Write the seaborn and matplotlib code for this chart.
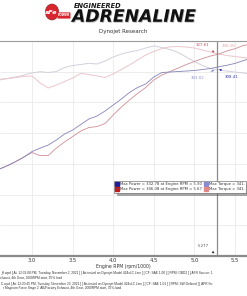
import matplotlib
matplotlib.use('Agg')
import matplotlib.pyplot as plt
import seaborn as sns
import pandas as pd
from matplotlib.lines import Line2D
from matplotlib.patches import Circle, FancyBboxPatch
from matplotlib.ticker import MultipleLocator
import matplotlib.patheffects as pe

# ---------------- data (Engine RPM in thousands) ----------------
rpm = [2.6, 2.7, 2.8, 2.9, 3.0, 3.1, 3.2, 3.3, 3.4, 3.5, 3.6, 3.7, 3.8, 3.9,
       4.0, 4.1, 4.2, 4.3, 4.4, 4.5, 4.6, 4.7, 4.8, 4.9, 5.0, 5.1, 5.2, 5.3,
       5.4, 5.5, 5.6, 5.7]
power_run1 = [141.5, 147.2, 153.7, 161.1, 170.0, 175.7, 180.6, 188.8, 198.5, 205.0,
              214.0, 223.0, 227.8, 236.0, 245.8, 255.5, 266.1, 274.3, 280.0, 291.4,
              298.7, 299.5, 300.3, 301.1, 302.0, 303.6, 305.2, 308.0, 310.5, 313.5,
              318.0, 322.0]
power_run2 = [141.5, 147.2, 153.7, 161.1, 168.4, 163.5, 163.5, 175.7, 185.5, 194.5,
              203.4, 209.1, 210.7, 215.6, 229.5, 242.5, 253.9, 264.5, 274.3, 286.5,
              294.6, 300.3, 306.0, 311.7, 316.6, 321.5, 325.6, 328.8, 333.7, 337.5,
              342.5, 345.5]
torque_run1 = [286.5, 288.9, 291.4, 294.6, 297.9, 300.0, 298.7, 300.3, 306.8, 310.1,
               311.7, 313.7, 312.5, 317.4, 323.9, 328.8, 332.1, 334.5, 338.6, 341.9,
               339.4, 336.2, 331.3, 323.9, 316.6, 310.1, 305.2, 302.8, 301.1, 299.5,
               297.9, 296.3]
torque_run2 = [287.6, 288.9, 290.6, 292.2, 293.0, 281.6, 273.5, 278.3, 284.0, 289.7,
               297.1, 295.4, 293.0, 290.6, 296.3, 303.6, 310.9, 319.1, 327.2, 332.9,
               337.8, 340.6, 341.0, 340.2, 338.6, 335.3, 332.1, 328.8, 326.4, 324.8,
               323.1, 321.5]

x_ticks = [3.0, 3.5, 4.0, 4.5, 5.0, 5.5]
x_tick_labels = ["3.0", "3.5", "4.0", "4.5", "5.0", "5.5"]
cursor_rpm = 5.277
cursor_values = ["327.61", "330.10", "303.02", "308.41"]

legend_labels = ["Max Power = 332.78 at Engine RPM = 5.90",
                 "Max Power = 346.08 at Engine RPM = 5.67",
                 "Max Torque = 341.",
                 "Max Torque = 341."]

footer_lines = [
    "_H.wpd [ At: 12:31:08 PM, Tuesday, November 2, 2021 ] [ As tested on Dynojet Model 424xLC Line ] [ CF: SAE 1.00 ] [ RPM: OBD2 ] [ AFR Source: 1",
    "xhaust, 4th Gear, 2000RPM start, 35% load",
    "C.wpd [ At: 12:20:45 PM, Tuesday, November 23, 2021 ] [ As tested on Dynojet Model 424xLC Line ] [ CF: SAE 1.01 ] [ RPM: SW Defined ] [ AFR Su",
    "r Magnum Force Stage 2  AB/Factory Exhaust, 4th Gear, 2000RPM start, 35% load",
]

# ---------------- styling ----------------
sns.set_theme(style="white")
plt.rcParams['font.family'] = ['DejaVu Sans']

W, H = 247, 296
fig = plt.figure(figsize=(W / 100, H / 100), dpi=100)
fig.patch.set_facecolor('white')

def fx(px):
    return px / W

def fy(py):
    return 1 - py / H

ax = fig.add_axes([0, fy(256), 1, (256 - 41) / H])
ax.set_facecolor('white')

df = pd.DataFrame({"rpm": rpm, "p1": power_run1, "p2": power_run2,
                   "t1": torque_run1, "t2": torque_run2})

c_p1, c_p2 = '#8583ba', '#cf8e96'
c_t1, c_t2 = '#d3cfdd', '#eac6cb'
sns.lineplot(data=df, x="rpm", y="t1", ax=ax, color=c_t1, lw=0.7)
sns.lineplot(data=df, x="rpm", y="t2", ax=ax, color=c_t2, lw=0.7)
sns.lineplot(data=df, x="rpm", y="p2", ax=ax, color=c_p2, lw=0.6)
sns.lineplot(data=df, x="rpm", y="p1", ax=ax, color=c_p1, lw=0.6)

ax.set_xlim(2.606, 5.648)
ax.set_ylim(0, 350)
ax.set_xticks(x_ticks)
ax.set_xticklabels(x_tick_labels)
ax.xaxis.set_minor_locator(MultipleLocator(0.1))
ax.yaxis.set_major_locator(MultipleLocator(50))
ax.set_yticklabels([])
ax.tick_params(axis='y', length=0)
ax.tick_params(axis='x', which='major', direction='in', length=3.5, width=0.6,
               color='#555555', labelsize=3.8, labelcolor='#333333', pad=1.5)
ax.tick_params(axis='x', which='minor', direction='in', length=2.2, width=0.5,
               color='#555555')
ax.grid(True, color='#e6e6e6', lw=0.5)
ax.set_xlabel("Engine RPM (rpm/1000)", fontsize=3.3, color='#333333', labelpad=0.8)
ax.set_ylabel("")
for s in ['left', 'right']:
    ax.spines[s].set_visible(False)
ax.spines['top'].set_color('#9a9a9a')
ax.spines['top'].set_linewidth(0.8)
ax.spines['bottom'].set_color('#8a8a8a')
ax.spines['bottom'].set_linewidth(1.6)

# cursor
ax.axvline(cursor_rpm, color='#8c8c8c', lw=0.9)

# cursor value annotations
ax.annotate(cursor_values[0], xy=(cursor_rpm, 329), xytext=(fx(203), fy(45)),
            textcoords='figure fraction', fontsize=2.8, color='#c04a55', ha='center', va='center',
            arrowprops=dict(arrowstyle='-|>', color='#c04a55', lw=0.4, mutation_scale=3))
ax.text(fx(229), fy(46), cursor_values[1], transform=fig.transFigure, fontsize=2.8,
        color='#e39aa3', ha='center', va='center')
ax.annotate(cursor_values[2], xy=(cursor_rpm, 305), xytext=(fx(198), fy(78)),
            textcoords='figure fraction', fontsize=2.8, color='#8e8ed0', ha='center', va='center',
            arrowprops=dict(arrowstyle='-|>', color='#8e8ed0', lw=0.4, mutation_scale=3))
ax.annotate(cursor_values[3], xy=(cursor_rpm, 307), xytext=(fx(232), fy(77)),
            textcoords='figure fraction', fontsize=2.8, color='#3a3aa8', ha='center', va='center',
            arrowprops=dict(arrowstyle='-|>', color='#3a3aa8', lw=0.4, mutation_scale=3))
ax.annotate("5.277", xy=(cursor_rpm, 2), xytext=(fx(203), fy(246)),
            textcoords='figure fraction', fontsize=2.8, color='#555555', ha='center', va='center',
            arrowprops=dict(arrowstyle='-|>', color='#222222', lw=0.4, mutation_scale=3))

# legend
handles = [Line2D([], [], marker='s', ls='', color='#1e1e9a', markersize=2.2),
           Line2D([], [], marker='s', ls='', color='#c01e1e', markersize=2.2),
           Line2D([], [], marker='s', ls='', color='#8a8ad0', markersize=2.2),
           Line2D([], [], marker='s', ls='', color='#e08888', markersize=2.2)]
leg = ax.legend(handles, legend_labels, ncol=2, loc='upper left',
                bbox_to_anchor=(fx(114), fy(181)), bbox_transform=fig.transFigure,
                fontsize=2.7, frameon=True, fancybox=False, shadow=True,
                handlelength=0.8, handletextpad=0.4, columnspacing=0.8,
                borderpad=0.35, labelspacing=0.25, borderaxespad=0)
leg.get_frame().set_edgecolor('#555555')
leg.get_frame().set_linewidth(0.4)
for t in leg.get_texts():
    t.set_color('#333333')

# header / logo
logo = Circle((fx(52), fy(12)), 0.027, transform=fig.transFigure, facecolor='#d7262e',
              edgecolor='#8c1a1e', lw=0.4)
fig.patches.append(logo)
fig.text(fx(51), fy(12.5), "aFe", fontsize=4.6, color='white', fontweight='bold',
         style='italic', ha='center', va='center')
bar = FancyBboxPatch((fx(58), fy(18)), fx(12), 0.017, boxstyle='round,pad=0.002',
                     transform=fig.transFigure, facecolor='#d7262e', edgecolor='none')
fig.patches.append(bar)
fig.text(fx(64), fy(15.2), "POWER", fontsize=2.2, color='white', fontweight='bold',
         style='italic', ha='center', va='center')
fig.text(fx(74), fy(6.2), "ENGINEERED", fontsize=4.8, color='#1a1a1a', fontweight='bold',
         style='italic', ha='left', va='center')
fig.text(fx(72), fy(16.8), "ADRENALINE", fontsize=12.4, color='#111111', fontweight='bold',
         style='italic', ha='left', va='center', family='DejaVu Sans',
         path_effects=[pe.withSimplePatchShadow(offset=(0.6, -0.6), shadow_rgbFace='#999999', alpha=0.7)])
fig.text(fx(123), fy(31), "Dynojet Research", fontsize=4.0, color='#333333',
         ha='center', va='center')

# footer
footer_y = [273.3, 277.3, 284.0, 288.0]
footer_x = [0, 0, 1, 3]
for line, yy, xx in zip(footer_lines, footer_y, footer_x):
    fig.text(fx(xx), fy(yy), line, fontsize=2.35, color='#333333', ha='left', va='center',
             family='Liberation Sans')

fig.savefig("out.png", dpi=100)
